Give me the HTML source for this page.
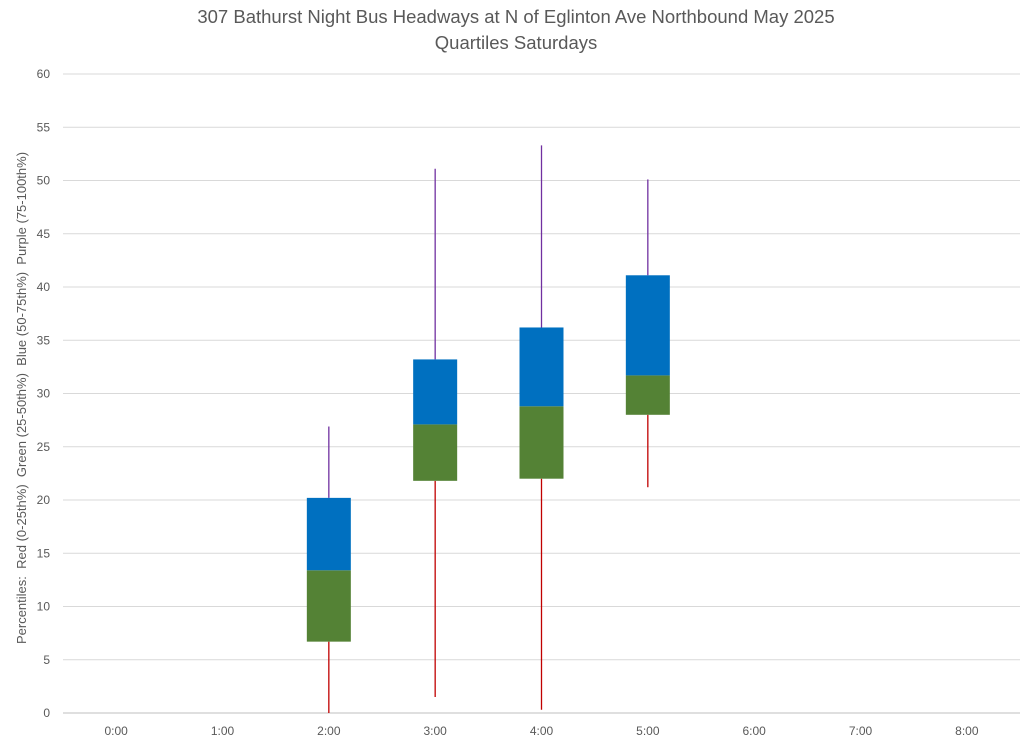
<!DOCTYPE html>
<html><head><meta charset="utf-8"><style>
html,body{margin:0;padding:0;background:#fff;}
svg{display:block;font-family:"Liberation Sans",sans-serif;}
</style></head><body>
<svg id="chart" width="1024" height="742">
<text x="516" y="23" text-anchor="middle" font-size="18.5" fill="#595959">307 Bathurst Night Bus Headways at N of Eglinton Ave Northbound May 2025</text>
<text x="516" y="49" text-anchor="middle" font-size="18.5" fill="#595959">Quartiles Saturdays</text>
<text transform="translate(26,398) rotate(-90)" text-anchor="middle" font-size="13" fill="#595959" style="white-space:pre">Percentiles:  Red (0-25th%)  Green (25-50th%)  Blue (50-75th%)  Purple (75-100th%)</text>
<g id="grid"></g><g id="marks"></g><g id="labels"></g>
</svg>
<script>
const categories=["0:00","1:00","2:00","3:00","4:00","5:00","6:00","7:00","8:00"];
const minVals=[null,null,0,1.5,0.3,21.2,null,null,null];
const q1Vals=[null,null,6.7,21.8,22.0,28.0,null,null,null];
const medVals=[null,null,13.4,27.1,28.8,31.7,null,null,null];
const q3Vals=[null,null,20.2,33.2,36.2,41.1,null,null,null];
const maxVals=[null,null,26.9,51.1,53.3,50.1,null,null,null];
const yTicks=[0,5,10,15,20,25,30,35,40,45,50,55,60];
const NS="http://www.w3.org/2000/svg";
const L=63,R=1020,T=74,B=713,yMax=60;
function y(v){return B-(v/yMax)*(B-T);}
function x(i){return L+(R-L)/categories.length*(i+0.5);}
function mk(tag,attrs,parent){const e=document.createElementNS(NS,tag);for(const k in attrs)e.setAttribute(k,attrs[k]);parent.appendChild(e);return e;}
const g=document.getElementById('grid'),m=document.getElementById('marks'),lb=document.getElementById('labels');
yTicks.forEach(t=>{
  const ln=mk('line',{x1:L,x2:R,y1:y(t),y2:y(t),stroke:t===0?'#bfbfbf':'#d9d9d9','stroke-width':1},g);
  
  
  const tx=mk('text',{x:50,y:y(t)+4,'text-anchor':'end','font-size':12,fill:'#595959'},lb);
  tx.textContent=t;
  
  
});
categories.forEach((c,i)=>{
  const tx=mk('text',{x:x(i),y:735,'text-anchor':'middle','font-size':12,fill:'#595959'},lb);
  tx.textContent=c;
  
  
  if(minVals[i]==null)return;
  const cx=x(i),w=44;
  const lo=mk('line',{x1:cx,x2:cx,y1:y(minVals[i]),y2:y(q1Vals[i]),stroke:'#c00000','stroke-width':1.3},m);
  
  
  const hi=mk('line',{x1:cx,x2:cx,y1:y(maxVals[i]),y2:y(q3Vals[i]),stroke:'#7030a0','stroke-width':1.3},m);
  
  
  const gb=mk('rect',{x:cx-w/2,y:y(medVals[i]),width:w,height:y(q1Vals[i])-y(medVals[i]),fill:'#548235'},m);
  
  
  const bb=mk('rect',{x:cx-w/2,y:y(q3Vals[i]),width:w,height:y(medVals[i])-y(q3Vals[i]),fill:'#0070c0'},m);
  
  
});
</script>
</body></html>
